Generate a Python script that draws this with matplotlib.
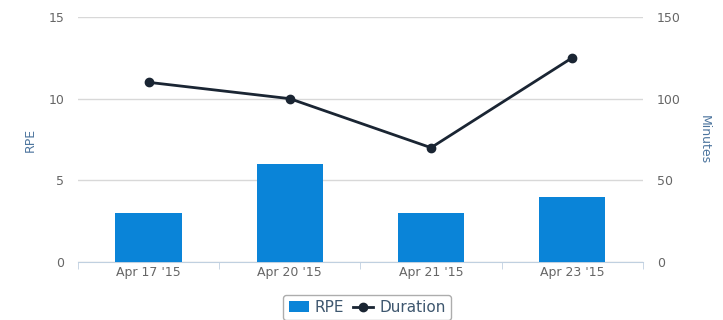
import matplotlib
matplotlib.use("Agg")
import matplotlib.pyplot as plt
import numpy as np

categories = ["Apr 17 '15", "Apr 20 '15", "Apr 21 '15", "Apr 23 '15"]
rpe = [3, 6, 3, 4]
duration = [110, 100, 70, 125]

fig = plt.figure(figsize=(7.23, 3.2), dpi=100)
ax = fig.add_axes([0.108, 0.181, 0.781, 0.766])
ax2 = ax.twinx()

x = np.arange(len(categories))
ax.bar(x, rpe, width=0.47, color="#0a84d8", zorder=3, label="RPE")
ax2.plot(x, duration, color="#1a2533", lw=2, marker="o", ms=6, zorder=4, label="Duration")

ax.set_xlim(-0.5, len(categories) - 0.5)
ax.set_ylim(0, 15)
ax2.set_ylim(0, 150)
ax.set_yticks([0, 5, 10, 15])
ax2.set_yticks([0, 50, 100, 150])
ax.yaxis.grid(True, color="#d8d8d8", lw=1, zorder=0)
ax.set_axisbelow(True)

for a in (ax, ax2):
    for s in a.spines.values():
        s.set_visible(False)
    a.tick_params(axis="y", length=0, labelsize=9, labelcolor="#666666")
ax.tick_params(axis="y", pad=10)
ax2.tick_params(axis="y", pad=10)
ax.spines["bottom"].set_visible(True)
ax.spines["bottom"].set_color("#c0d0e0")
ax.set_xticks(x)
ax.set_xticklabels(categories)
ax.tick_params(axis="x", length=0, labelsize=9, labelcolor="#666666", pad=3)
ax.set_xticks(np.arange(-0.5, len(categories), 1.0), minor=True)
ax.tick_params(axis="x", which="minor", length=5, color="#c0d0e0")

ax.set_ylabel("RPE", color="#4d759e", fontsize=9, labelpad=8)
ax2.set_ylabel("Minutes", color="#4d759e", fontsize=9, rotation=270, labelpad=22)

h1, l1 = ax.get_legend_handles_labels()
h2, l2 = ax2.get_legend_handles_labels()
leg = fig.legend(h1 + h2, l1 + l2, loc="lower center", bbox_to_anchor=(0.508, -0.025),
                 ncol=2, frameon=True, fontsize=11, handlelength=1.3, columnspacing=0.6,
                 handletextpad=0.4, borderpad=0.35, fancybox=True)
leg.get_frame().set_edgecolor("#999999")
for t in leg.get_texts():
    t.set_color("#3e576f")

fig.savefig("out.png", dpi=100)
